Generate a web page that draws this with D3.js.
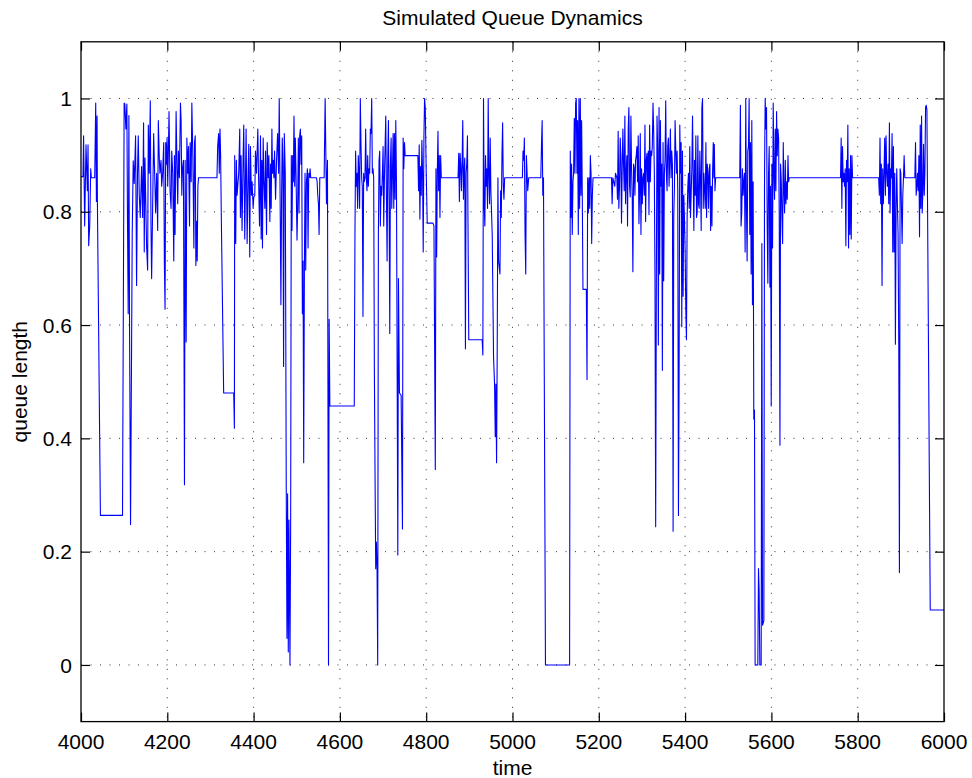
<!DOCTYPE html>
<html>
<head>
<meta charset="utf-8">
<script src="https://cdn.jsdelivr.net/npm/d3@7"></script>
<style>
  html, body { margin: 0; padding: 0; background: #fff; }
  svg { display: block; }
  text { font-family: "Liberation Sans", Arial, Helvetica, sans-serif; fill: #000; }
</style>
</head>
<body>
<svg id="chart" width="972" height="778"></svg>
<script>
// ---------- data ----------
const chartTitle = "Simulated Queue Dynamics";
const xLabel = "time";
const yLabel = "queue length";
const xTicks = [4000, 4200, 4400, 4600, 4800, 5000, 5200, 5400, 5600, 5800, 6000];
const xTickLabels = ["4000", "4200", "4400", "4600", "4800", "5000", "5200", "5400", "5600", "5800", "6000"];
const yTicks = [0, 0.2, 0.4, 0.6, 0.8, 1];
const yTickLabels = ["0", "0.2", "0.4", "0.6", "0.8", "1"];
const xDomain = [4000, 6000];
const yDomain = [-0.1, 1.1];

// [time, queue length]
const segment4000 = [
  [4000,.862],[4004.6,.862],[4006,.934],[4008.5,.775],[4011.6,.918],[4014.7,.837],[4016.3,.918],[4017.8,.74],
  [4020.2,.775],[4022.5,.876],[4024,.86],[4031.8,.86],[4034.1,.992],[4035.7,.818],[4037.2,.969],[4038,.818],
  [4045,.264],[4096.2,.264],[4100,.992],[4101.6,.99],[4104,.946],[4106.3,.99],[4107.8,.78],[4109.4,.62],
  [4111,.97],[4112.5,.6],[4114.8,.248],[4117.2,.558],[4118.7,.76],[4121,.89],[4123.4,.85],[4126.5,.934],
  [4128.8,.67],[4131,.87],[4132.7,.934],[4135,.83],[4137.3,.79],[4140.4,.88],[4142.8,.79],[4145,.957],
  [4146.6,.729],[4148.2,.895],[4150.5,.80],[4152,.74],[4154.4,.697],[4156,.953],[4158.3,.868],[4160.6,.996],
  [4162.2,.775],[4163.7,.682],[4166,.806],[4168.4,.938],[4170.7,.868],[4173,.798],[4175.4,.868],[4177.7,.767],
  [4179.2,.961],[4181.6,.891],[4183,.868],[4185.4,.891],[4187,.845],[4189.3,.868],[4191.7,.922],[4193.2,.71],
  [4194.8,.628],[4196.3,.922],[4197.9,.884],[4199.4,.93],[4201,.845],[4202.5,.907],[4204,.977],[4206.4,.837],
  [4208.7,.806],[4210.3,.907],[4212.6,.868],[4215,.713],[4216.5,.899],[4218,.76],[4220.4,.977],[4222.7,.868],
  [4224.2,.814],[4225.8,.907],[4228,.86],[4230.5,.992],[4232,.961],[4233.6,.829],[4235.1,.876],[4237.4,.891]
];
const segment4240 = [
  [4239.8,.318],[4241.4,.891],[4243.7,.57],[4245.3,.93],[4247.6,.868],[4249.1,.915],[4251.5,.775],[4253,.922],
  [4255.3,.853],[4256.9,.992],[4259.2,.899],[4261.6,.736],[4263.1,.922],[4264.7,.934],[4266.2,.705],[4267.8,.783],
  [4269.3,.713],[4270.9,.845],[4272.4,.86],[4315.1,.86],[4316.7,.915],[4319,.938],[4320.5,.868],[4322.1,.946],
  [4323.6,.899],[4325.2,.79],[4330.6,.48],[4353.9,.48],[4355.5,.418],[4356.2,.899],[4358.6,.744],[4360.1,.891],
  [4361.7,.829],[4364,.853],[4365.5,.868],[4367.9,.946],[4369.4,.79],[4371,.899],[4373.3,.767],[4375.6,.891],
  [4377.2,.953],[4379.5,.752],[4381.1,.853],[4382.6,.946],[4385,.744],[4387.3,.868],[4388.8,.919],[4391.1,.72],
  [4392.7,.915],[4395,.829],[4396.6,.853],[4398.9,.806],[4400.5,.826],[4402.8,.829],[4404.3,.907],[4406.7,.868],
  [4409.8,.946],[4411.3,.868],[4413.7,.775],[4416,.934],[4417.5,.752],[4419.1,.891],[4420.6,.736],[4422.2,.93],
  [4423.7,.86],[4426.1,.806],[4427.6,.907],[4430,.76],[4431.5,.922],[4433.8,.86],[4435.4,.899],[4437.7,.783],
  [4439.3,.884],[4440.8,.806],[4442.4,.946],[4443.9,.868],[4445.5,.891],[4447,.86],[4448.6,.907],[4450.9,.822],
  [4453.2,.891],[4455.6,.938],[4457.9,.868],[4459.4,1.0],[4461,.868],[4463.3,.636],[4464.9,.829],[4466.4,.93],
  [4468,.884],[4469.5,.527],[4471.1,.938],[4473.4,.868],[4475.7,.306],[4477.3,.047],[4478.8,.302],[4480.4,.023],
  [4481.9,.256]
];
const segment4484 = [
  [4484.3,0],[4485.9,.256],[4487.4,.899],[4489,.767],[4490.5,.899],[4492.1,.853],[4493.6,.969],[4495.2,.845],
  [4496.7,.93],[4498.3,.868],[4500.6,.75],[4502.2,.814],[4503.7,.93],[4505.3,.798],[4506.8,.934],[4508.4,.946],
  [4509.9,.884],[4511.5,.934],[4513,.62],[4514.6,.713],[4516.1,.357],[4517.7,.698],[4519.2,.868],[4520.8,.697],
  [4522.4,.853],[4524.7,.876],[4526.2,.736],[4527.8,.868],[4529.3,.86],[4530.9,.876],[4532.4,.86],[4545.6,.86],
  [4547.2,.853],[4548.7,.829],[4550.3,.814],[4551.8,.76],[4553.4,.86],[4563.5,.86],[4565.8,1.0],[4568.9,.814],
  [4571.2,.891],[4573.6,0],[4575.1,.61],[4576.7,.457],[4633.3,.457],[4634.9,.76],[4636.4,.907],[4638,.845],
  [4639.5,.868],[4641.1,.806],[4642.6,.899],[4644.2,.868],[4645.7,.806],[4647.3,1.0],[4648.8,.922],[4650.4,.86],
  [4651.9,.845],[4653.5,.615],[4655,.868],[4656.6,.853],[4658.2,.86],[4659.7,.946],[4661.3,.86],[4662.8,.837],
  [4664.4,.899],[4665.9,.845],[4667.5,.876],[4669,.868],[4670.6,.946],[4672.1,.938],[4673.7,1.0],[4675.2,.868],
  [4676.8,.876],[4678.3,.86],[4679.9,.52],[4681.4,.341],[4683,.17],[4684.5,.217],[4686.1,.17],[4687.6,0],
  [4689.2,.76],[4690.7,.891],[4692.3,.907],[4693.8,.775],[4695.4,.845],[4696.9,.829],[4698.5,.868],[4700.1,.915],
  [4701.6,.775],[4703.2,.86],[4704.7,.915],[4706.3,.969],[4707.8,.829],[4709.4,.713],[4710.9,.891],[4712.5,.961],
  [4714,.822],[4715.6,.585],[4717.1,.884],[4718.7,.93],[4720.2,.806],[4721.8,.868],[4723.3,.938],[4724.9,.806],
  [4726.4,.938],[4728,.822],[4729.5,.961],[4731.1,.853]
];
const segment4734 = [
  [4734.2,.194],[4735.7,.682],[4738,.48],[4741.9,.476],[4745,.24],[4746.6,.93],[4748.1,.876],[4749.7,.922],
  [4751.2,.899],[4780.7,.899],[4782.3,.837],[4783.8,.918],[4785.4,.787],[4786.9,.88],[4788.5,.829],[4790,.926],
  [4791.6,.868],[4793.1,.729],[4794.7,.93],[4796.2,1.0],[4797.8,.984],[4800.1,.868],[4802.4,.78],[4815.6,.78],
  [4818,.775],[4821.1,.345],[4822.6,.876],[4824.2,.72],[4825.7,.868],[4827.3,.942],[4828.8,.837],[4830.4,.899],
  [4831.9,.79],[4833.5,.899],[4835,.86],[4873.8,.86],[4875.4,.903],[4876.9,.818],[4878.5,.903],[4880,.884],
  [4881.6,.837],[4883.2,.884],[4884.7,.961],[4886.3,.822],[4887.8,.872],[4889.4,.895],[4890.9,.558],[4892.5,.868],
  [4894,.884],[4895.6,.934],[4897.1,.752],[4898.7,.574],[4929.7,.574],[4931.3,.547],[4932.8,1.0],[4934.4,.814],
  [4935.9,.775],[4937.5,.899],[4939,.845],[4940.6,.876],[4942.1,.806],[4943.7,1.0],[4945.2,.86],[4946.8,.814],
  [4948.3,.93],[4949.9,.837],[4953,.76],[4956.1,.543],[4958.4,.496],[4960,.403],[4961.5,.496],[4963.1,.357],
  [4964.6,.558],[4966.2,.86],[4967.7,.713]
];
const segment4971 = [
  [4970.9,.69],[4972.5,.837],[4974,.79],[4975.6,.899],[4977.1,.957],[4978.7,.845],[4980.2,.822],[4981.8,.86],
  [5022.9,.86],[5024.4,.907],[5026,.891],[5027.5,.93],[5029.1,.76],[5030.7,.69],[5032.2,.899],[5033.8,.868],
  [5035.3,.837],[5037.6,.86],[5065.6,.86],[5067.1,.915],[5068.7,.961],[5070.2,.829],[5071.8,.86],[5076.4,0],
  [5132.3,0],[5133.9,.907],[5135.4,.79],[5137,.884],[5138.5,.76],[5140.1,.853],[5141.6,.868],[5143.2,.965],
  [5144.7,.868],[5146.3,.992],[5147.8,1.0],[5149.4,.868],[5150.9,.961],[5152.5,.76],[5154,1.0],[5155.6,.806],
  [5157.1,1.0],[5158.7,.829],[5160.2,.961],[5161.8,.822],[5163.3,.663],[5171.1,.663],[5172.7,.504],[5174.2,.86],
  [5175.8,.798],[5177.3,.86],[5178.9,.806],[5180.4,.899],[5182,.868],[5183.5,.744],[5185.1,.829],[5186.6,.86]
];
const segment5215 = [
  [5215.4,.86],[5229.4,.86],[5230.9,.814],[5232.5,.86],[5237.1,.845],[5238.7,.868],[5241.8,.86],[5243.3,.822],
  [5244.9,.942],[5246.4,.806],[5248,.845],[5249.6,.93],[5251.1,.899],[5252.6,.78],[5254.2,.876],[5255.8,.946],
  [5257.3,.884],[5258.9,.837],[5260.4,.969],[5262,.814],[5263.5,.868],[5265.1,.899],[5266.6,.775],[5268.2,.946],
  [5269.7,.984],[5271.3,.845],[5272.8,.826],[5274.4,.969],[5275.9,.876],[5277.5,.826],[5279,.694],[5280.6,.884],
  [5282.1,.876],[5283.7,.829],[5285.2,.891],[5286.8,.899],[5288.3,.915],[5289.9,.853],[5291.4,.934],[5293,.779],
  [5294.6,.837],[5296.1,.938],[5297.7,.76],[5299.2,.876],[5300.8,.814],[5302.3,.86],[5303.9,.868],[5305.4,.829],
  [5307,.953],[5308.5,.783],[5310.1,.891],[5311.6,.903],[5313.2,.853],[5314.7,.907],[5316.3,.795],[5317.8,.953],
  [5319.4,.853],[5320.9,.907],[5322.5,.899],[5324,.915],[5325.6,.992],[5327.1,.946],[5328.7,.868],[5330.2,.682],
  [5331.8,.244],[5333.4,.682],[5334.9,.969],[5336.5,.907],[5338,.565],[5339.6,.984],[5341.1,.69],[5342.7,.961],
  [5344.2,.845],[5345.8,.884],[5347.3,.52],[5348.9,.922],[5350.4,.678],[5352,.868],[5353.5,.891],[5355.1,.996],
  [5356.6,.868],[5358.2,.837],[5359.7,.915],[5361.3,.93],[5362.8,.845],[5364.4,.891],[5365.9,.946],[5367.5,.86],
  [5369,.907],[5370.6,.884],[5372.2,.236],[5373.7,.79],[5375.3,.845],[5376.8,.961],[5378.4,.907],[5379.9,.868],
  [5381.5,.907],[5383,.837],[5384.6,.264],[5386.1,.512],[5387.7,.953],[5389.2,.868],[5390.8,.922],[5392.3,.597],
  [5393.9,.907],[5395.4,.651],[5397,.829],[5398.5,.79],[5400.1,.729],[5401.6,.628],[5403.2,.574],[5404.7,.79],
  [5406.3,.845],[5407.8,.868],[5409.4,.806],[5410.9,.915],[5412.5,.79],[5414,.829],[5415.6,.876],[5417.2,.969],
  [5418.7,.868],[5420.3,.767],[5421.8,.891],[5423.4,.829],[5424.9,.934],[5426.5,.79],[5428,.798],[5429.6,.934],
  [5431.1,.814],[5432.7,.806],[5434.2,.907],[5435.8,.853],[5437.3,.767],[5438.9,.984],[5440.4,1.0],[5442,.806],
  [5443.5,.868],[5445.1,.837],[5446.6,.806],[5448.2,.922],[5449.8,.79],[5451.3,.884],[5452.9,.868],[5454.4,.806],
  [5456,.876],[5457.5,.884],[5459.1,.767],[5460.6,.845],[5462.2,.775],[5463.7,.868],[5465.3,.922],[5466.8,.86]
];
const segment5468 = [
  [5467.7,.919],[5469.2,.837],[5470.8,.86],[5526.6,.86],[5528.2,.988],[5529.7,.775],[5531.3,.798],[5532.8,.876],
  [5534.4,.829],[5535.9,.853],[5537.5,.868],[5539.1,.729],[5540.6,1.0],[5542.2,.806],[5543.7,.713],[5545.3,.907],
  [5546.8,.915],[5548.4,1.0],[5549.9,.76],[5551.5,.922],[5553,.69],[5554.6,.961],[5556.1,.636],[5557.7,.853],
  [5559.2,.434],[5560.8,.45],[5562.3,0],[5568.5,0],[5570.1,.17],[5571.6,.13],[5573.2,0],[5576.3,0],
  [5577.9,.744],[5579.4,.07],[5582.5,.078],[5584.1,.868],[5585.6,1.0],[5587.2,.946],[5588.7,.984],[5590.3,.775],
  [5591.8,.674],[5593.4,.868],[5594.9,.915],[5596.5,.667],[5598,.845],[5599.6,.457],[5601.1,.884],[5602.7,.736],
  [5604.2,.992],[5605.8,.868],[5607.3,.822],[5608.9,.946],[5610.4,.837],[5612,.977],[5613.5,.899],[5615.1,.946],
  [5616.7,.93],[5618.2,.79],[5619.8,.388],[5621.3,.884],[5622.9,.853],[5624.4,.79],[5626,.744],[5627.5,.922],
  [5629.1,.837],[5630.6,.798],[5632.2,.891],[5633.7,.814],[5635.3,.853],[5636.8,.822],[5638.4,.899],[5639.9,.853],
  [5641.5,.86]
];
const segment5704 = [
  [5704.3,.86],[5760.2,.86],[5761.7,.93],[5763.3,.806],[5764.8,.915],[5766.4,.853],[5767.9,.868],[5769.5,.845],
  [5771,.876],[5772.6,.74],[5774.1,.891],[5775.7,.853],[5777.2,.953],[5778.8,.736],[5780.3,.876],[5781.9,.76],
  [5783.5,.899],[5785,.752],[5786.6,.899],[5788.1,.86],[5848.6,.86],[5850.2,.829],[5851.7,.93],[5853.3,.814],
  [5854.8,.884],[5856.4,.67],[5857.9,.876],[5859.5,.814],[5861,.868],[5862.6,.93],[5864.2,.829],[5865.7,.934],
  [5867.3,.868],[5868.8,.845],[5870.4,.884],[5871.9,.814],[5873.5,.957],[5875,.798],[5876.6,.876],[5878.1,.86],
  [5879.7,.938],[5881.2,.729],[5882.8,.915],[5884.3,.729],[5885.9,.868],[5887.4,.566],[5889,.806],[5890.5,.876],
  [5892.1,.81],[5893.6,.76],[5895.2,.566],[5896.7,.163],[5898.3,.876],[5899.9,.868],[5901.4,.806],[5903,.744],
  [5904.5,.829],[5906.1,.86],[5907.6,.899],[5909.2,.86],[5932.4,.86],[5934,.922],[5935.5,.829],[5937.1,.845],
  [5938.6,.868],[5940.2,.837],[5941.8,.899],[5943.3,.756],[5944.9,.953],[5946.4,.806],[5948,.969],[5949.5,.798],
  [5951.1,.837],[5952.6,.919],[5954.2,.829],[5955.7,.868],[5957.3,.984],[5958.8,.988],[5960.4,.98],[5968.1,.097],
  [6000,.097]
];

const queueSeries = [].concat(segment4000, segment4240, segment4484, segment4734,
  segment4971, segment5215, segment5468, segment5704);

// ---------- drawing ----------
const svg = d3.select("#chart");
const plotLeft = 81, plotRight = 944, plotTop = 41.8, plotBottom = 721.6;
const x = d3.scaleLinear().domain(xDomain).range([plotLeft, plotRight]);
const y = d3.scaleLinear().domain(yDomain).range([plotBottom, plotTop]);
const fontSize = 21;

// grid
const grid = svg.append("g");
grid.selectAll("line.vg").data(xTicks.slice(1, -1)).join("line")
  .attr("x1", d => x(d)).attr("x2", d => x(d))
  .attr("y1", plotTop).attr("y2", plotBottom)
  .attr("stroke", "#333").attr("stroke-width", 1).attr("stroke-dasharray", "1,8.5");
grid.selectAll("line.hg").data(yTicks).join("line")
  .attr("x1", plotLeft).attr("x2", plotRight)
  .attr("y1", d => y(d)).attr("y2", d => y(d))
  .attr("stroke", "#333").attr("stroke-width", 1).attr("stroke-dasharray", "1,8.5");

// data line
svg.append("clipPath").attr("id", "plotclip").append("rect")
  .attr("x", plotLeft).attr("y", plotTop).attr("width", plotRight - plotLeft).attr("height", plotBottom - plotTop);
svg.append("path")
  .datum(queueSeries)
  .attr("clip-path", "url(#plotclip)")
  .attr("fill", "none")
  .attr("stroke", "#0000ff")
  .attr("stroke-width", 1.1)
  .attr("stroke-linejoin", "round")
  .attr("d", d3.line().x(d => x(d[0])).y(d => y(d[1])));

// axes ticks (inward, on all four sides)
const tickLen = 9;
function styleAxis(g) {
  g.select(".domain").remove();
  g.selectAll(".tick line").attr("stroke", "#000").attr("stroke-width", 1.2);
  g.selectAll(".tick text").remove();
}
svg.append("g").attr("transform", `translate(0,${plotBottom})`)
  .call(d3.axisBottom(x).tickValues(xTicks).tickSize(-tickLen).tickSizeOuter(0)).call(styleAxis);
svg.append("g").attr("transform", `translate(0,${plotTop})`)
  .call(d3.axisTop(x).tickValues(xTicks).tickSize(-tickLen).tickSizeOuter(0)).call(styleAxis);
svg.append("g").attr("transform", `translate(${plotLeft},0)`)
  .call(d3.axisLeft(y).tickValues(yTicks).tickSize(-tickLen).tickSizeOuter(0)).call(styleAxis);
svg.append("g").attr("transform", `translate(${plotRight},0)`)
  .call(d3.axisRight(y).tickValues(yTicks).tickSize(-tickLen).tickSizeOuter(0)).call(styleAxis);

// frame
svg.append("rect")
  .attr("x", plotLeft).attr("y", plotTop).attr("width", plotRight - plotLeft).attr("height", plotBottom - plotTop)
  .attr("fill", "none").attr("stroke", "#000").attr("stroke-width", 1.3);

// tick labels
svg.append("g").selectAll("text").data(xTicks).join("text")
  .attr("x", d => x(d)).attr("y", 749)
  .attr("text-anchor", "middle").attr("font-size", fontSize)
  .text((d, i) => xTickLabels[i]);
svg.append("g").selectAll("text").data(yTicks).join("text")
  .attr("x", 72).attr("y", d => y(d)).attr("dy", "0.36em")
  .attr("text-anchor", "end").attr("font-size", fontSize)
  .text((d, i) => yTickLabels[i]);

// title and axis labels
svg.append("text").attr("x", (plotLeft + plotRight) / 2).attr("y", 25)
  .attr("text-anchor", "middle").attr("font-size", fontSize).text(chartTitle);
svg.append("text").attr("x", (plotLeft + plotRight) / 2).attr("y", 775)
  .attr("text-anchor", "middle").attr("font-size", fontSize).text(xLabel);
svg.append("text")
  .attr("transform", `translate(27,${(plotTop + plotBottom) / 2}) rotate(-90)`)
  .attr("text-anchor", "middle").attr("font-size", fontSize).text(yLabel);
</script>
</body>
</html>
